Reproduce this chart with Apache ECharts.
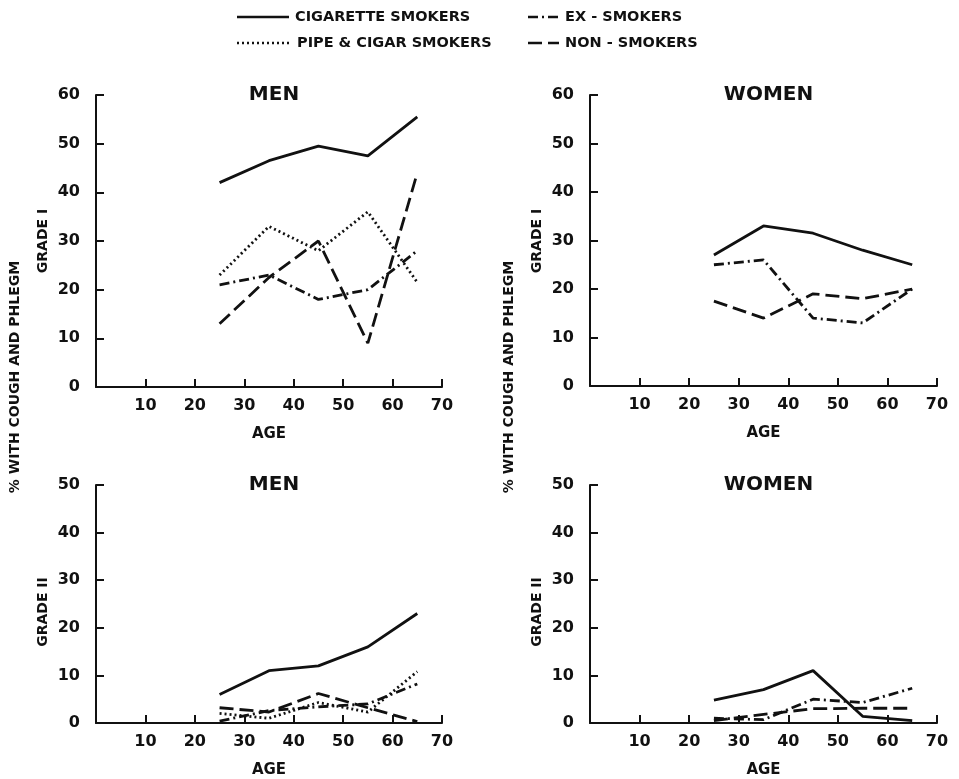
<!DOCTYPE html>
<html>
<head>
<meta charset="utf-8">
<script src="https://cdn.jsdelivr.net/npm/echarts@6/dist/echarts.min.js"></script>
<style>
  html, body { margin: 0; padding: 0; background: #fff; }
  #chart { width: 959px; height: 779px; }
</style>
</head>
<body>
<div id="chart"></div>
<script>
// 年龄组中点
const ages = [25, 35, 45, 55, 65];
const xTicks = [10, 20, 30, 40, 50, 60, 70];

// Grade I
const menG1Cig = [42, 46.5, 49.5, 47.5, 55.5];
const menG1Pipe = [23, 33, 28, 36, 21.5];
const menG1Ex = [21, 23, 18, 20, 28];
const menG1Non = [13, 22.5, 30, 9, 44];
const womenG1Cig = [27, 33, 31.5, 28, 25];
const womenG1Ex = [25, 26, 14, 13, 20];
const womenG1Non = [17.5, 14, 19, 18, 20];

// Grade II
const menG2Cig = [6, 11, 12, 16, 23];
const menG2Pipe = [2, 1, 4.3, 2.3, 10.8];
const menG2Ex = [0.4, 2.6, 3.4, 4, 8.2];
const menG2Non = [3.2, 2.3, 6.2, 3.2, 0.3];
const womenG2Cig = [4.8, 7, 11, 1.4, 0.5];
const womenG2Ex = [1, 0.7, 5, 4.3, 7.3];
const womenG2Non = [0.5, 1.8, 3, 3.1, 3.1];

const legendNames = ['CIGARETTE SMOKERS', 'EX - SMOKERS', 'PIPE & CIGAR SMOKERS', 'NON - SMOKERS'];
const panelTitles = ['MEN', 'WOMEN', 'MEN', 'WOMEN'];

const FONT = 'DejaVu Sans';
const INK = '#111';
const dash = {
  cig: 'solid',
  pipe: [2, 3],
  ex: [10, 4, 2, 4],
  non: [14, 6]
};

const grids = [
  { left: 96, top: 95, width: 346, height: 292 },
  { left: 590, top: 95, width: 347, height: 291 },
  { left: 96, top: 485, width: 346, height: 242 },
  { left: 590, top: 485, width: 347, height: 241 }
];
const yMax = [60, 60, 50, 50];

const xAxes = grids.map((g, i) => ({
  type: 'value', gridIndex: i, min: 0, max: 70, interval: 10,
  name: 'AGE', nameLocation: 'middle', nameGap: 40,
  nameTextStyle: { fontFamily: FONT, fontWeight: 'bold', fontSize: 15, color: INK },
  axisLine: { lineStyle: { color: INK, width: 2 } },
  axisTick: { inside: true, length: 8, lineStyle: { color: INK, width: 2 } },
  axisLabel: {
    margin: 11, fontFamily: FONT, fontWeight: 'bold', fontSize: 16, color: INK,
    formatter: v => (xTicks.indexOf(v) >= 0 ? String(v) : '')
  },
  splitLine: { show: false }
}));

const yAxes = grids.map((g, i) => ({
  type: 'value', gridIndex: i, min: 0, max: yMax[i], interval: 10,
  axisLine: { show: true, lineStyle: { color: INK, width: 2 } },
  axisTick: { show: true, inside: true, length: 8, lineStyle: { color: INK, width: 2 } },
  axisLabel: { margin: 16, fontFamily: FONT, fontWeight: 'bold', fontSize: 16, color: INK },
  splitLine: { show: false }
}));

function line(name, vals, idx, type) {
  return {
    name: name, type: 'line', xAxisIndex: idx, yAxisIndex: idx,
    data: ages.map((a, k) => [a, vals[k]]),
    symbol: 'none', silent: true, animation: false,
    lineStyle: { color: INK, width: 2.8, type: type, cap: 'butt' }
  };
}

const series = [
  line(legendNames[0], menG1Cig, 0, dash.cig),
  line(legendNames[2], menG1Pipe, 0, dash.pipe),
  line(legendNames[1], menG1Ex, 0, dash.ex),
  line(legendNames[3], menG1Non, 0, dash.non),
  line(legendNames[0], womenG1Cig, 1, dash.cig),
  line(legendNames[1], womenG1Ex, 1, dash.ex),
  line(legendNames[3], womenG1Non, 1, dash.non),
  line(legendNames[0], menG2Cig, 2, dash.cig),
  line(legendNames[2], menG2Pipe, 2, dash.pipe),
  line(legendNames[1], menG2Ex, 2, dash.ex),
  line(legendNames[3], menG2Non, 2, dash.non),
  line(legendNames[0], womenG2Cig, 3, dash.cig),
  line(legendNames[1], womenG2Ex, 3, dash.ex),
  line(legendNames[3], womenG2Non, 3, dash.non)
];

const titles = grids.map((g, i) => ({
  text: panelTitles[i],
  left: g.left + g.width / 2, top: g.top - 15, textAlign: 'center',
  textStyle: { fontFamily: FONT, fontWeight: 'bold', fontSize: 20, color: INK }
}));

// 图例 (手画)
function legendItem(x1, x2, y, type, text) {
  return [
    { type: 'line', shape: { x1: x1, y1: y, x2: x2, y2: y },
      style: { stroke: INK, lineWidth: 2.6, lineDash: type === 'solid' ? null : type } },
    { type: 'text', x: x2 + 6, y: y,
      style: { text: text, fill: INK, font: 'bold 14.5px "' + FONT + '"', verticalAlign: 'middle' } }
  ];
}

function vText(x, y, text) {
  return {
    type: 'text', x: x, y: y, rotation: Math.PI / 2,
    style: { text: text, fill: INK, font: 'bold 14px "' + FONT + '"', align: 'center', verticalAlign: 'middle' }
  };
}

const graphics = [].concat(
  legendItem(237, 289, 17, dash.cig, legendNames[0]),
  legendItem(528, 559, 17, dash.ex, legendNames[1]),
  legendItem(237, 291, 43, dash.pipe, legendNames[2]),
  legendItem(528, 559, 43, dash.non, legendNames[3]),
  [
    vText(15, 377, '% WITH COUGH AND PHLEGM'),
    vText(43, 241, 'GRADE I'),
    vText(43, 612, 'GRADE II'),
    vText(509, 377, '% WITH COUGH AND PHLEGM'),
    vText(537, 241, 'GRADE I'),
    vText(537, 612, 'GRADE II')
  ]
);

const chart = echarts.init(document.getElementById('chart'));
chart.setOption({
  backgroundColor: '#fff',
  animation: false,
  title: titles,
  grid: grids,
  xAxis: xAxes,
  yAxis: yAxes,
  series: series,
  graphic: graphics
});
</script>
</body>
</html>
